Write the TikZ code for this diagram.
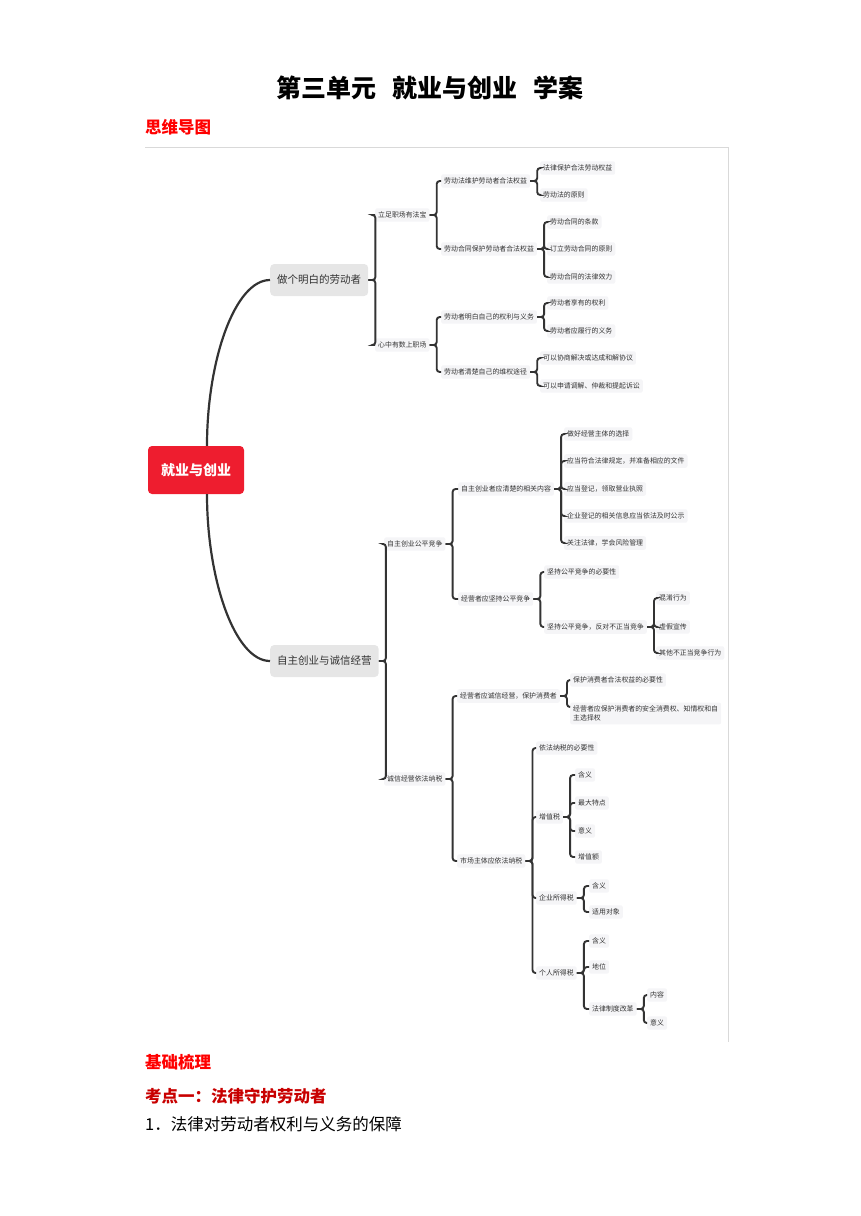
\documentclass[tikz,border=0pt]{standalone}
\usepackage{fontspec}
\setmainfont{Noto Sans CJK SC}
\usepackage{xcolor}
\usepackage{tikz}
\usetikzlibrary{positioning}
\definecolor{rootred}{HTML}{EE1D2F}
\definecolor{topicgray}{HTML}{E6E6E6}
\definecolor{leafgray}{HTML}{F5F5F7}
\definecolor{linegray}{HTML}{333333}
\definecolor{textgray}{HTML}{333333}
\definecolor{framegray}{HTML}{D9D9D9}
\definecolor{headred}{HTML}{FF0000}
\definecolor{pointred}{HTML}{C80000}
\tikzset{	node distance=14pt,
	mindroot/.style={
		fill=rootred,
		text=white,
		rounded corners=4pt,
		minimum width=96pt,
		minimum height=48pt,
		font=\bfseries\fontsize{14}{16}\selectfont},
	topic/.style={
		anchor=west,
		fill=topicgray,
		text=textgray,
		rounded corners=4pt,
		inner xsep=7pt,
		minimum height=32pt,
		font=\fontsize{10.5}{12}\selectfont},
	leaf/.style={
		anchor=west,
		fill=leafgray,
		text=textgray,
		rounded corners=2pt,
		inner xsep=3pt,
		inner ysep=3.5pt,
		font=\fontsize{6.9}{8.5}\selectfont},
	trunk/.style={
		draw=linegray,
		line width=2.2pt},
	heading/.style={
		anchor=west,
		inner sep=0pt,
		text=headred,
		font=\bfseries\fontsize{16.5}{18}\selectfont},
	every edge/.style={
		draw=linegray,
		line width=1.9pt,
		rounded corners=3pt,
		to path={-- ++(7,0) |- (\tikztotarget)}}
}
\begin{document}
\begin{tikzpicture}[x=1pt, y=-1pt]
				\useasboundingbox (0,0) rectangle (860,1216);
				\node[font=\bfseries\fontsize{25}{28}\selectfont] (title) at (430,88) {第三单元\hspace{16pt}就业与创业\hspace{16pt}学案};
				\node[heading] (siwei) at (145,127) {思维导图};
				\draw[framegray, line width=1pt] (145,147) -- (728,147) -- (728,1042);
				\node[mindroot] (root) at (196,470) {就业与创业};
				\node[topic] (t1) at (270,280) {做个明白的劳动者};
				\node[topic] (t2) at (270,661) {自主创业与诚信经营};
				\draw[trunk] ([xshift=11pt]root.north) .. controls (207,360) and (235,280) .. (t1.west);
				\draw[trunk] ([xshift=11pt]root.south) .. controls (207,580) and (235,661) .. (t2.west);
				\node[leaf] (a1) at (375,215) {立足职场有法宝};
				\node[leaf] (a2) at (375,345) {心中有数上职场};
				\node[leaf] (a11) at (441,181) {劳动法维护劳动者合法权益};
				\node[leaf] (a12) at (441,249) {劳动合同保护劳动者合法权益};
				\node[leaf] (a111) at (540,168) {法律保护合法劳动权益};
				\node[leaf] (a112) at (540,195) {劳动法的原则};
				\node[leaf] (a121) at (547,222) {劳动合同的条款};
				\node[leaf] (a122) at (547,249) {订立劳动合同的原则};
				\node[leaf] (a123) at (547,277) {劳动合同的法律效力};
				\node[leaf] (a21) at (441,317) {劳动者明白自己的权利与义务};
				\node[leaf] (a22) at (441,372) {劳动者清楚自己的维权途径};
				\node[leaf] (a211) at (547,303) {劳动者享有的权利};
				\node[leaf] (a212) at (547,331) {劳动者应履行的义务};
				\node[leaf] (a221) at (540,358) {可以协商解决或达成和解协议};
				\node[leaf] (a222) at (540,386) {可以申请调解、仲裁和提起诉讼};
				\node[leaf] (b1) at (384,544) {自主创业公平竞争};
				\node[leaf] (b2) at (384,779) {诚信经营依法纳税};
				\node[leaf] (b11) at (458,489) {自主创业者应清楚的相关内容};
				\node[leaf] (b12) at (458,599) {经营者应坚持公平竞争};
				\node[leaf] (b111) at (564,434) {做好经营主体的选择};
				\node[leaf] (b112) at (564,461) {应当符合法律规定，并准备相应的文件};
				\node[leaf] (b113) at (564,489) {应当登记，领取营业执照};
				\node[leaf] (b114) at (564,516) {企业登记的相关信息应当依法及时公示};
				\node[leaf] (b115) at (564,543) {关注法律，学会风险管理};
				\node[leaf] (b121) at (544,572) {坚持公平竞争的必要性};
				\node[leaf] (b122) at (544,627) {坚持公平竞争，反对不正当竞争};
				\node[leaf] (b1221) at (656,598) {混淆行为};
				\node[leaf] (b1222) at (656,627) {虚假宣传};
				\node[leaf] (b1223) at (656,653) {其他不正当竞争行为};
				\node[leaf] (b21) at (457,696) {经营者应诚信经营，保护消费者};
				\node[leaf] (b22) at (457,861) {市场主体应依法纳税};
				\node[leaf] (b211) at (570,680) {保护消费者合法权益的必要性};
				\node[leaf, align=left] (b212) at (570,713.5) {经营者应保护消费者的安全消费权、知情权和自\\主选择权};
				\node[leaf] (b221) at (536,748) {依法纳税的必要性};
				\node[leaf] (b222) at (536,817) {增值税};
				\node[leaf] (b223) at (536,898) {企业所得税};
				\node[leaf] (b224) at (536,973) {个人所得税};
				\node[leaf] (zz1) at (575,775) {含义};
				\node[leaf] (zz2) at (575,803) {最大特点};
				\node[leaf] (zz3) at (575,831) {意义};
				\node[leaf] (zz4) at (575,857) {增值额};
				\node[leaf] (qy1) at (589,886) {含义};
				\node[leaf] (qy2) at (589,912) {适用对象};
				\node[leaf] (gr1) at (589,941) {含义};
				\node[leaf] (gr2) at (589,967) {地位};
				\node[leaf] (gr3) at (589,1009) {法律制度改革};
				\node[leaf] (gr31) at (647,995) {内容};
				\node[leaf] (gr32) at (647,1023) {意义};
				\draw (t1.east) edge (a1.west);
				\draw (t1.east) edge (a2.west);
				\draw (a1.east) edge (a11.west);
				\draw (a1.east) edge (a12.west);
				\draw (a11.east) edge (a111.west);
				\draw (a11.east) edge (a112.west);
				\draw (a12.east) edge (a121.west);
				\draw (a12.east) edge (a122.west);
				\draw (a12.east) edge (a123.west);
				\draw (a2.east) edge (a21.west);
				\draw (a2.east) edge (a22.west);
				\draw (a21.east) edge (a211.west);
				\draw (a21.east) edge (a212.west);
				\draw (a22.east) edge (a221.west);
				\draw (a22.east) edge (a222.west);
				\draw (t2.east) edge (b1.west);
				\draw (t2.east) edge (b2.west);
				\draw (b1.east) edge (b11.west);
				\draw (b1.east) edge (b12.west);
				\draw (b11.east) edge (b111.west);
				\draw (b11.east) edge (b112.west);
				\draw (b11.east) edge (b113.west);
				\draw (b11.east) edge (b114.west);
				\draw (b11.east) edge (b115.west);
				\draw (b12.east) edge (b121.west);
				\draw (b12.east) edge (b122.west);
				\draw (b122.east) edge (b1221.west);
				\draw (b122.east) edge (b1222.west);
				\draw (b122.east) edge (b1223.west);
				\draw (b2.east) edge (b21.west);
				\draw (b2.east) edge (b22.west);
				\draw (b21.east) edge (b211.west);
				\draw (b21.east) edge ([yshift=6.5pt]b212.west);
				\draw (b22.east) edge (b221.west);
				\draw (b22.east) edge (b222.west);
				\draw (b22.east) edge (b223.west);
				\draw (b22.east) edge (b224.west);
				\draw (b222.east) edge (zz1.west);
				\draw (b222.east) edge (zz2.west);
				\draw (b222.east) edge (zz3.west);
				\draw (b222.east) edge (zz4.west);
				\draw (b223.east) edge (qy1.west);
				\draw (b223.east) edge (qy2.west);
				\draw (b224.east) edge (gr1.west);
				\draw (b224.east) edge (gr2.west);
				\draw (b224.east) edge (gr3.west);
				\draw (gr3.east) edge (gr31.west);
				\draw (gr3.east) edge (gr32.west);
				\node[heading] (jichu) at (145,1062) {基础梳理};
				\node[heading, text=pointred, below=34pt of jichu.west, anchor=west] (kaodian) {考点一：法律守护劳动者};
				\node[inner sep=0pt, font=\fontsize{16.5}{18}\selectfont, below=28pt of kaodian.west, anchor=west] (item) {1．法律对劳动者权利与义务的保障};
\end{tikzpicture}
\end{document}
